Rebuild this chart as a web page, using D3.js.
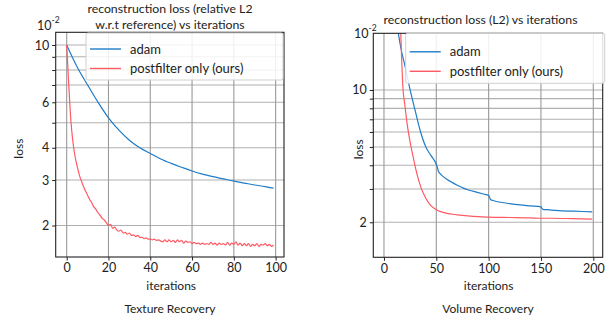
<!DOCTYPE html>
<html><head><meta charset="utf-8">
<script src="https://cdn.jsdelivr.net/npm/d3@7"></script>
<style>
body{margin:0;background:#fff}
text{font-family:Lato,"DejaVu Sans",sans-serif;fill:#222}
</style>
</head><body>
<svg id="c" width="613" height="324"></svg>
<script>
// ---------- DATA (loss values in units of 1e-2) ----------
const seriesNames = ["adam", "postfilter only (ours)"];
const colors = ["#1f7cc8", "#ff5a64"];

// Texture Recovery
const texAdamIter = [0,5,10,15,20,25,30,35,40,45,50,55,60,65,70,75,80,85,90,95,99];
const texAdam = [10.0,8.22,7.0,6.0,5.22,4.68,4.28,4.0,3.8,3.62,3.48,3.36,3.25,3.16,3.09,3.03,2.97,2.92,2.87,2.83,2.79];
const texPostfilter = [
 10.0,7.0,5.1,4.2,3.7,3.4,3.15,2.98,2.84,2.72,
 2.62,2.52,2.45,2.36,2.31,2.24,2.19,2.13,2.10,2.05,
 2.00,2.02,1.95,1.97,1.92,1.90,1.92,1.87,1.88,1.85,
 1.87,1.83,1.84,1.81,1.83,1.80,1.80,1.78,1.79,1.77,
 1.77,1.76,1.77,1.75,1.76,1.74,1.73,1.76,1.73,1.76,
 1.73,1.75,1.72,1.76,1.73,1.75,1.71,1.74,1.72,1.73,
 1.70,1.72,1.70,1.71,1.69,1.71,1.69,1.70,1.69,1.72,
 1.69,1.71,1.68,1.71,1.69,1.70,1.68,1.72,1.68,1.71,
 1.69,1.73,1.68,1.71,1.67,1.70,1.67,1.70,1.66,1.69,
 1.67,1.70,1.66,1.69,1.68,1.70,1.67,1.69,1.66,1.68];
const texXTicks = [0,20,40,60,80,100];
const texYLabelled = [10,6,4,3,2];
const texYAll = [2,3,4,5,6,7,8,9,10];

// Volume Recovery
const volAdamIter = [0,5,10,14,17,20,25,30,35,40,45,50,51,52,55,60,65,70,75,80,85,90,95,100,101,102,105,110,120,130,140,150,151,152,155,160,170,180,190,199];
const volAdam = [120,55,30,19.5,15.8,13.5,10.0,7.7,6.0,5.0,4.5,4.05,3.9,3.72,3.55,3.38,3.25,3.14,3.05,2.97,2.92,2.87,2.82,2.77,2.70,2.63,2.60,2.56,2.51,2.47,2.44,2.41,2.36,2.34,2.33,2.32,2.30,2.29,2.28,2.27];
const volPostIter = [0,5,10,14,16,17,18,20,22,25,28,30,32,34,36,38,40,44,48,50,55,60,70,80,90,100,120,140,150,160,180,199];
const volPost = [150,80,40,25,20,14,10.5,8.3,6.7,5.3,4.4,3.9,3.52,3.22,2.98,2.82,2.68,2.48,2.37,2.33,2.27,2.23,2.19,2.16,2.14,2.13,2.12,2.11,2.10,2.10,2.09,2.08];
const volXTicks = [0,50,100,150,200];
const volYLabelled = [10,2];
const volYAll = [2,3,4,5,6,7,8,9,10];

// ---------- DRAW ----------
const svg = d3.select("#c");

function panel(cfg){
  const g = svg.append("g");
  const x = d3.scaleLinear().domain(cfg.xDomain).range([cfg.left, cfg.right]);
  const y = d3.scaleLog().domain(cfg.yDomain).range([cfg.bottom, cfg.top]);
  const clipId = "clip" + cfg.id;
  svg.append("clipPath").attr("id", clipId).append("rect")
    .attr("x", cfg.left).attr("y", cfg.top)
    .attr("width", cfg.right - cfg.left).attr("height", cfg.bottom - cfg.top);

  // grid
  g.selectAll(".hg").data(cfg.yAll).join("line")
    .attr("x1", cfg.left).attr("x2", cfg.right)
    .attr("y1", d => y(d)).attr("y2", d => y(d))
    .attr("stroke", "#b0b0b0").attr("stroke-width", 1.1);
  g.selectAll(".vg").data(cfg.xTicks).join("line")
    .attr("x1", d => x(d)).attr("x2", d => x(d))
    .attr("y1", cfg.top).attr("y2", cfg.bottom)
    .attr("stroke", "#999").attr("stroke-width", 1.1);

  // lines
  const line = d3.line().x(d => x(d[0])).y(d => y(d[1])).curve(d3.curveMonotoneX);
  const lg = g.append("g").attr("clip-path", `url(#${clipId})`);
  cfg.series.forEach((s, i) => {
    lg.append("path").datum(d3.zip(s.iter, s.vals))
      .attr("d", line).attr("fill", "none")
      .attr("stroke", colors[i]).attr("stroke-width", 1.2);
  });

  // axes
  const xAxis = d3.axisBottom(x).tickValues(cfg.xTicks).tickSize(3.5).tickPadding(3);
  const xa = g.append("g").attr("transform", `translate(0,${cfg.bottom})`).call(xAxis);
  xa.select(".domain").remove();
  xa.selectAll("text").attr("font-size", 12.5).attr("fill", "#222").style("font-family", "Lato");
  xa.selectAll("line").attr("stroke", "#222");

  const yAxis = d3.axisLeft(y).tickValues(cfg.yAll)
    .tickFormat(d => cfg.yLabelled.includes(d) ? String(d) : "")
    .tickSize(3.5).tickPadding(3);
  const ya = g.append("g").attr("transform", `translate(${cfg.left},0)`).call(yAxis);
  ya.select(".domain").remove();
  ya.selectAll("text").attr("font-size", 12.5).attr("fill", "#222").style("font-family", "Lato");
  ya.selectAll("line").attr("stroke", "#222");

  // frame
  g.append("rect").attr("x", cfg.left).attr("y", cfg.top)
    .attr("width", cfg.right - cfg.left).attr("height", cfg.bottom - cfg.top)
    .attr("fill", "none").attr("stroke", "#222").attr("stroke-width", 1.1);

  // offset text 10^-2
  const ot = g.append("text").attr("x", cfg.offX).attr("y", cfg.offY).attr("font-size", 12.5);
  ot.append("tspan").text("10");
  ot.append("tspan").attr("dy", -7).attr("font-size", 8.5).text("-2");

  // legend
  const L = cfg.legend;
  g.append("rect").attr("x", L.x).attr("y", L.y).attr("width", L.w).attr("height", L.h)
    .attr("rx", 2).attr("fill", "#fff").attr("fill-opacity", 0.85)
    .attr("stroke", "#d0d0d0").attr("stroke-width", 1);
  seriesNames.forEach((n, i) => {
    const yy = L.y + L.row0 + i * L.dy;
    g.append("line").attr("x1", L.x + 4).attr("x2", L.x + 35).attr("y1", yy).attr("y2", yy)
      .attr("stroke", colors[i]).attr("stroke-width", 1.4);
    g.append("text").attr("x", L.x + 44).attr("y", yy).attr("dy", "0.35em")
      .attr("font-size", 13).text(n);
  });

  // titles and labels
  cfg.title.forEach((t, i) => {
    g.append("text").attr("x", cfg.titleX).attr("y", cfg.titleY + i * 16)
      .attr("text-anchor", "middle").attr("font-size", 12.3).text(t);
  });
  g.append("text").attr("x", (x(cfg.xTicks[0]) + x(cfg.xTicks[cfg.xTicks.length-1])) / 2)
    .attr("y", cfg.bottom + 33).attr("text-anchor", "middle").attr("font-size", 12).text("iterations");
  g.append("text").attr("transform", `translate(${cfg.yLabX},${(cfg.top + cfg.bottom) / 2 + 4}) rotate(-90)`)
    .attr("text-anchor", "middle").attr("font-size", 12).text("loss");
  g.append("text").attr("x", cfg.capX).attr("y", 313).attr("text-anchor", "middle")
    .attr("font-size", 12).text(cfg.caption);
}

panel({
  id: "tex", left: 55.7, right: 284, top: 32.3, bottom: 257,
  xDomain: [-5.26, 104], yDomain: [1.51, 11.2],
  xTicks: texXTicks, yAll: texYAll, yLabelled: texYLabelled,
  series: [{iter: texAdamIter, vals: texAdam}, {iter: d3.range(texPostfilter.length), vals: texPostfilter}],
  offX: 37, offY: 30,
  legend: {x: 86, y: 33, w: 197, h: 47, row0: 16, dy: 19.5},
  title: ["reconstruction loss (relative L2", "w.r.t reference) vs iterations"],
  titleX: 170, titleY: 12.5,
  yLabX: 23, capX: 170, caption: "Texture Recovery"
});

panel({
  id: "vol", left: 373.3, right: 602.7, top: 33.3, bottom: 257.3,
  xDomain: [-10.2, 209], yDomain: [1.306, 19.93],
  xTicks: volXTicks, yAll: volYAll, yLabelled: volYLabelled,
  series: [{iter: volAdamIter, vals: volAdam}, {iter: volPostIter, vals: volPost}],
  offX: 354, offY: 38,
  legend: {x: 405.7, y: 33.3, w: 199, h: 50, row0: 18.5, dy: 19.5},
  title: ["reconstruction loss (L2) vs iterations"],
  titleX: 480.5, titleY: 23.5,
  yLabX: 363, capX: 488, caption: "Volume Recovery"
});
</script>
</body></html>
